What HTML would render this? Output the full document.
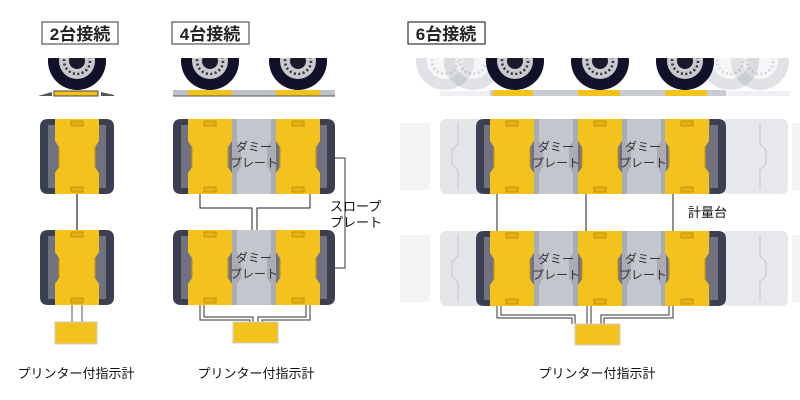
<!DOCTYPE html>
<html><head><meta charset="utf-8"><style>
body{margin:0;background:#fff;}
svg{display:block;font-family:"Liberation Sans","Noto Sans CJK JP",sans-serif;}
</style></head><body>
<svg width="800" height="400" viewBox="0 0 800 400" xmlns="http://www.w3.org/2000/svg">
<defs>
<clipPath id="wc"><rect x="-40" y="-3" width="80" height="40"/></clipPath>
<g id="wheel">
 <g clip-path="url(#wc)">
  <circle cx="0" cy="0" r="29" fill="#12112a"/>
  <circle cx="0" cy="0" r="18" fill="#c9cacf"/>
  <circle cx="0" cy="0" r="13" fill="none" stroke="#333" stroke-width="2.5" stroke-dasharray="2 2.5"/>
  <circle cx="0" cy="0" r="8" fill="#1a1a2a"/>
 </g>
</g>
<g id="fwheel" opacity="0.3">
 <g clip-path="url(#wc)">
  <circle cx="0" cy="0" r="29" fill="#9aa0aa"/>
  <circle cx="0" cy="0" r="18" fill="#e0e2e6"/>
  <circle cx="0" cy="0" r="13" fill="none" stroke="#777" stroke-width="2.5" stroke-dasharray="2 2.5"/>
 </g>
</g>
<g id="yel">
 <path d="M0 0 H44 V22 L40 28 V48 L44 54 V75 H0 V54 L4 48 V28 L0 22 Z" fill="#f3c21c"/>
 <path d="M4 28 V48 M40 28 V48" stroke="#c99a10" stroke-width="1.2" fill="none"/>
 <rect x="16" y="2" width="12" height="5" fill="#e6b010" stroke="#b88c10" stroke-width="0.8"/>
 <rect x="16" y="68" width="12" height="5" fill="#e6b010" stroke="#b88c10" stroke-width="0.8"/>
</g>
<g id="dummy">
 <rect x="0" y="0" width="44" height="75" fill="#a9acb4"/>
 <path d="M5 0 V22 L9 28 V48 L5 54 V75 H39 V54 L35 48 V28 L39 22 V0 Z" fill="#c3c6cc"/>
</g>
<g id="tireL">
 <path d="M8 0 H18 V75 H8 Q0 75 0 67 V8 Q0 0 8 0 Z" fill="#3c3e52"/>
 <rect x="8" y="6" width="10" height="63" fill="#70737f"/>
</g>
<g id="tireR">
 <path d="M0 0 H10 Q18 0 18 8 V67 Q18 75 10 75 H0 Z" fill="#3c3e52"/>
 <rect x="0" y="6" width="10" height="63" fill="#70737f"/>
</g>
</defs>

<g font-size="17" font-weight="bold" fill="#222">
 <rect x="42" y="22" width="76" height="22" fill="#fff" stroke="#555" stroke-width="1.2"/>
 <text x="80" y="40" text-anchor="middle">2台接続</text>
 <rect x="172" y="22" width="77" height="22" fill="#fff" stroke="#555" stroke-width="1.2"/>
 <text x="210" y="40" text-anchor="middle">4台接続</text>
 <rect x="408" y="22" width="77" height="22" fill="#fff" stroke="#333" stroke-width="1.2"/>
 <text x="446" y="40" text-anchor="middle">6台接続</text>
</g>

<!-- 2台 -->
<use href="#wheel" x="77" y="61"/>
<rect x="54" y="91" width="44" height="5" fill="#f3c21c" stroke="#444" stroke-width="1"/>
<path d="M38 96 L52 92 V96 Z M101 92 L114 95 V96 H101 Z" fill="#555"/>
<g transform="translate(40,119)">
 <use href="#tireL"/><use href="#tireR" x="56"/>
 <rect x="15" y="0" width="44" height="75" fill="#70737f"/>
 <use href="#yel" x="15"/>
</g>
<g transform="translate(40,230)">
 <use href="#tireL"/><use href="#tireR" x="56"/>
 <rect x="15" y="0" width="44" height="75" fill="#70737f"/>
 <use href="#yel" x="15"/>
</g>
<line x1="77" y1="194" x2="77" y2="230" stroke="#222" stroke-width="1.2"/>
<path d="M72 305 V322 M82 305 V322" stroke="#555" stroke-width="1"/>
<rect x="55" y="322" width="42" height="22" fill="#f3c21c" stroke="#ccc" stroke-width="1"/>

<!-- 4台 -->
<use href="#wheel" x="210" y="61"/>
<use href="#wheel" x="298" y="61"/>
<rect x="173" y="90" width="162" height="6" fill="#bfc1c8"/>
<rect x="188" y="90" width="44" height="6" fill="#f3c21c"/>
<rect x="276" y="90" width="44" height="6" fill="#f3c21c"/>
<line x1="173" y1="96" x2="335" y2="96" stroke="#555" stroke-width="1"/>
<g id="row4" transform="translate(173,119)">
 <use href="#tireL"/><use href="#tireR" x="144"/>
 <rect x="15" y="0" width="132" height="75" fill="#70737f"/>
 <use href="#dummy" x="59"/><use href="#yel" x="15"/><use href="#yel" x="103"/>
</g>
<g transform="translate(173,230)">
 <use href="#tireL"/><use href="#tireR" x="144"/>
 <rect x="15" y="0" width="132" height="75" fill="#70737f"/>
 <use href="#dummy" x="59"/><use href="#yel" x="15"/><use href="#yel" x="103"/>
</g>
<g font-size="12" fill="#333" text-anchor="middle">
 <text x="254" y="151">ダミー</text><text x="254" y="167">プレート</text>
 <text x="254" y="262">ダミー</text><text x="254" y="278">プレート</text>
</g>
<path d="M200 194 V208 H252 V230 M310 194 V208 H257 V230" stroke="#222" stroke-width="1" fill="none"/>
<path d="M200 305 V320 H250 V322 M204 305 V317 H253 V322 M310 305 V320 H262 V322 M306 305 V317 H258 V322" stroke="#333" stroke-width="1" fill="none"/>
<rect x="233" y="322" width="45" height="21" fill="#f3c21c" stroke="#ccc" stroke-width="1"/>
<path d="M333 158 H345 V268 H333" stroke="#333" stroke-width="1" fill="none"/>
<g font-size="13" fill="#111">
 <text x="330" y="211">スロープ</text><text x="330" y="227">プレート</text>
</g>

<!-- 6台 -->
<use href="#fwheel" x="445" y="61"/>
<use href="#fwheel" x="760" y="61"/>
<use href="#fwheel" x="473" y="61"/>
<use href="#fwheel" x="730" y="61"/>
<use href="#wheel" x="515" y="61"/>
<use href="#wheel" x="600" y="61"/>
<use href="#wheel" x="685" y="61"/>
<rect x="440" y="91" width="350" height="5" fill="#eef0f3"/>
<rect x="490" y="90" width="236" height="6" fill="#c9ccd2"/>
<rect x="493" y="90" width="40" height="6" fill="#f3c21c"/>
<rect x="578" y="90" width="42" height="6" fill="#f3c21c"/>
<rect x="665" y="90" width="42" height="6" fill="#f3c21c"/>
<g id="row6">
<g transform="translate(0,119)">
 <rect x="440" y="0" width="45" height="75" rx="6" fill="#e4e6ea"/>
 <path d="M458 4 V25 L452 31 V45 L458 51 V71" stroke="#c8cbd1" stroke-width="1.2" fill="none"/>
 <rect x="722" y="0" width="66" height="75" rx="6" fill="#e6e8ec"/>
 <path d="M760 4 V25 L766 31 V45 L760 51 V71" stroke="#c8cbd1" stroke-width="1.2" fill="none"/>
 <rect x="400" y="4" width="30" height="67" fill="#f3f4f6"/>
 <rect x="792" y="4" width="8" height="67" fill="#f3f4f6"/>
 <use href="#tireL" x="476"/><use href="#tireR" x="708"/>
 <rect x="490" y="0" width="220" height="75" fill="#70737f"/>
 <use href="#dummy" x="534"/>
 <use href="#dummy" x="622"/>
 <use href="#yel" x="490"/>
 <use href="#yel" x="578"/>
 <use href="#yel" x="665"/>
</g>
</g>
<use href="#row6" y="112"/>
<g font-size="12" fill="#333" text-anchor="middle">
 <text x="556" y="151">ダミー</text><text x="556" y="167">プレート</text>
 <text x="643" y="151">ダミー</text><text x="643" y="167">プレート</text>
 <text x="556" y="263">ダミー</text><text x="556" y="279">プレート</text>
 <text x="643" y="263">ダミー</text><text x="643" y="279">プレート</text>
</g>
<path d="M497 194 V231 M586 194 V231 M673 194 V231" stroke="#222" stroke-width="1"/>
<path d="M497 306 V318 H572 V324 M501 306 V315 H575 V324 M673 306 V318 H604 V324 M669 306 V315 H601 V324 M587 306 V324 M591 306 V324" stroke="#333" stroke-width="1" fill="none"/>
<rect x="575" y="324" width="45" height="21" fill="#f3c21c" stroke="#ccc" stroke-width="1"/>
<text x="688" y="217" font-size="13" fill="#111">計量台</text>

<g font-size="13" fill="#111" text-anchor="middle">
 <text x="76" y="378">プリンター付指示計</text>
 <text x="256" y="378">プリンター付指示計</text>
 <text x="597" y="378">プリンター付指示計</text>
</g>
</svg>
</body></html>
